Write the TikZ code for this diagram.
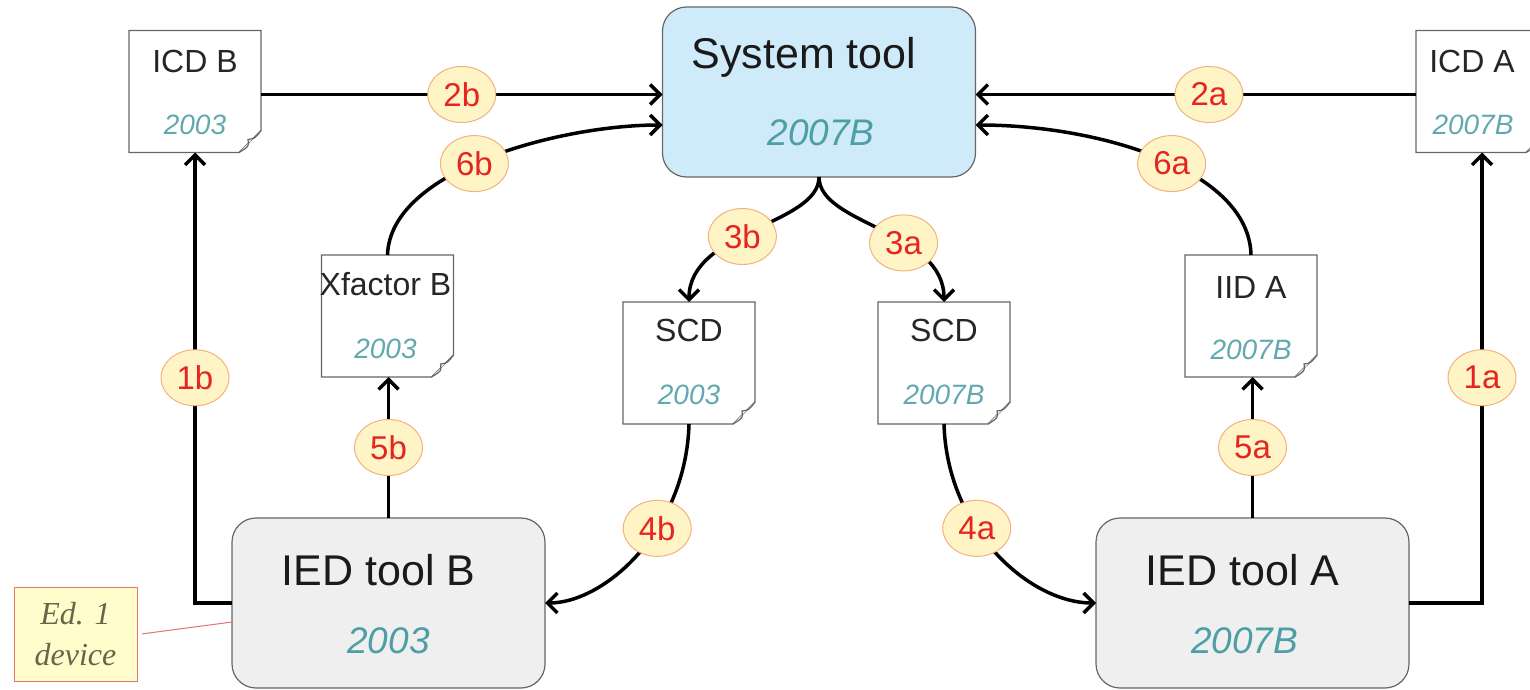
\documentclass[tikz,border=0pt]{standalone}
\usepackage{fontspec}
\setmainfont{Liberation Sans}
\newfontfamily\edserif{Liberation Serif}
\usetikzlibrary{arrows.meta,shapes.geometric}
\definecolor{sysblue}{HTML}{CFEAF8}
\definecolor{iedgray}{HTML}{EFEFEF}
\definecolor{tealyear}{HTML}{4E9EA5}
\definecolor{tealdoc}{HTML}{62A8AF}
\definecolor{lblfill}{HTML}{FEF4C6}
\definecolor{lbledge}{HTML}{F2B27E}
\definecolor{lblred}{HTML}{E52520}
\definecolor{edfill}{HTML}{FFFDCB}
\definecolor{edred}{HTML}{E8706F}
\definecolor{edtext}{HTML}{66664A}
\definecolor{txtdark}{HTML}{1A1A1A}
\newcommand\drawdoc[1]{%
  \draw[docline] (#1.north west) -- (#1.north east) -- ([yshift=22pt]#1.south east)
    -- ([xshift=-22pt]#1.south east) -- (#1.south west) -- cycle;
  \draw[docline, fill=black!5] ([yshift=22pt]#1.south east)
    .. controls ([xshift=-6pt,yshift=14pt]#1.south east) .. ([xshift=-13pt,yshift=13pt]#1.south east)
    .. controls ([xshift=-12pt,yshift=6pt]#1.south east) .. ([xshift=-22pt]#1.south east);}
\begin{document}
\begin{tikzpicture}[x=1pt,y=-1pt,
  toolbox/.style={draw=black!60, line width=1.2pt, rounded corners=24pt, minimum width=313pt, minimum height=170pt, inner sep=0, outer sep=0},
  docbox/.style={minimum width=132pt, minimum height=122pt, inner sep=0, outer sep=0},
  docline/.style={draw=black!60, line width=1.2pt},
  bigtitle/.style={text=txtdark, font=\fontsize{43}{50}\selectfont, inner sep=0},
  bigyear/.style={text=tealyear, font=\fontsize{37}{44}\selectfont\itshape, inner sep=0},
  doctitle/.style={text=black!85, font=\fontsize{32}{38}\selectfont, inner sep=0},
  docyear/.style={text=tealdoc, font=\fontsize{28}{34}\selectfont\itshape, inner sep=0},
  lbl/.style={ellipse, draw=lbledge, fill=lblfill, line width=1pt, minimum width=68pt, minimum height=56pt, inner sep=0, text=lblred, font=\fontsize{33}{38}\selectfont},
  conn/.style={line width=3.5pt, -{Straight Barb[length=10pt,width=20pt]}},
  edbox/.style={draw=edred, fill=edfill, line width=1pt, minimum width=123pt, minimum height=94pt, inner sep=0, align=center, text=edtext, font=\edserif\itshape\fontsize{32}{41}\selectfont}
]
\useasboundingbox (0,0) rectangle (1530,690);

% tool boxes
\node[toolbox, fill=sysblue] (sys) at (819,92) {};
\node[toolbox, fill=iedgray] (iedb) at (388.5,603) {};
\node[toolbox, fill=iedgray] (ieda) at (1252.5,603) {};
\node[bigtitle] (sysT) at ([xshift=-15pt,yshift=-50pt]sys.north) {System tool};
\node[bigyear] (sysY) at ([xshift=2pt,yshift=-126pt]sys.north) {2007B};
\node[bigtitle] (iedbT) at ([xshift=-10pt,yshift=-52pt]iedb.north) {IED tool B};
\node[bigyear] (iedbY) at ([yshift=-123pt]iedb.north) {2003};
\node[bigtitle] (iedaT) at ([xshift=-10pt,yshift=-52pt]ieda.north) {IED tool A};
\node[bigyear] (iedaY) at ([xshift=-8pt,yshift=-123pt]ieda.north) {2007B};

% documents
\node[docbox] (icdb) at (195,91.5) {};
\node[docbox] (icda) at (1482,91.5) {};
\node[docbox] (xfb) at (387.5,316) {};
\node[docbox] (scdl) at (689,363) {};
\node[docbox] (scdr) at (944,363) {};
\node[docbox] (iida) at (1251,316) {};
\drawdoc{icdb}
\drawdoc{icda}
\drawdoc{xfb}
\drawdoc{scdl}
\drawdoc{scdr}
\drawdoc{iida}
\node[doctitle] (icdbT) at ([yshift=-31pt]icdb.north) {ICD B};
\node[docyear] (icdbY) at ([yshift=-94pt]icdb.north) {2003};
\node[doctitle] (icdaT) at ([xshift=-10pt,yshift=-31pt]icda.north) {ICD A};
\node[docyear] (icdaY) at ([xshift=-9pt,yshift=-94pt]icda.north) {2007B};
\node[doctitle] (xfbT) at ([xshift=-2pt,yshift=-29pt]xfb.north) {Xfactor B};
\node[docyear] (xfbY) at ([xshift=-2pt,yshift=-94pt]xfb.north) {2003};
\node[doctitle] (scdlT) at ([yshift=-28pt]scdl.north) {SCD};
\node[docyear] (scdlY) at ([yshift=-93pt]scdl.north) {2003};
\node[doctitle] (scdrT) at ([yshift=-28pt]scdr.north) {SCD};
\node[docyear] (scdrY) at ([yshift=-93pt]scdr.north) {2007B};
\node[doctitle] (iidaT) at ([yshift=-32pt]iida.north) {IID A};
\node[docyear] (iidaY) at ([yshift=-95pt]iida.north) {2007B};

% connectors
\draw[conn] ([yshift=-3pt]icdb.east) -- ([yshift=-3pt]icdb.east -| sys.west) node[lbl,pos=0.5] {2b};
\draw[conn] ([yshift=-3pt]icda.west) -- ([yshift=-3pt]icda.west -| sys.east) node[lbl,pos=0.47] {2a};
\draw[conn] (xfb.north) .. controls (390,170) and (560,125) .. ([yshift=-33pt]sys.west) node[lbl,pos=0.46] {6b};
\draw[conn] (iida.north) .. controls (1249,170) and (1100,125) .. ([yshift=-33pt]sys.east) node[lbl,pos=0.46] {6a};
\draw[conn] (sys.south) .. controls (819,225) and (689,230) .. (scdl.north) node[lbl,pos=0.56] {3b};
\draw[conn] (sys.south) .. controls (819,225) and (944,230) .. (scdr.north) node[lbl,pos=0.62] {3a};
\draw[conn] (scdl.south) .. controls (686,530) and (605,603) .. (iedb.east) node[lbl,pos=0.38] {4b};
\draw[conn] (scdr.south) .. controls (947,530) and (1030,603) .. (ieda.west) node[lbl,pos=0.38] {4a};
\draw[conn] (iedb.north) -- (iedb.north |- xfb.south) node[lbl,midway] {5b};
\draw[conn] (ieda.north) -- (ieda.north |- iida.south) node[lbl,midway] {5a};
\draw[conn] (iedb.west) -| (icdb.south) node[lbl,pos=0.75] {1b};
\draw[conn] (ieda.east) -| (icda.south) node[lbl,pos=0.75] {1a};

% annotation
\node[edbox] (ed) at (75.5,634.5) {Ed. 1\\device};
\draw[edred, line width=1pt, shorten <=5pt] (ed.east) -- ([yshift=-19pt]iedb.west);
\end{tikzpicture}
\end{document}
